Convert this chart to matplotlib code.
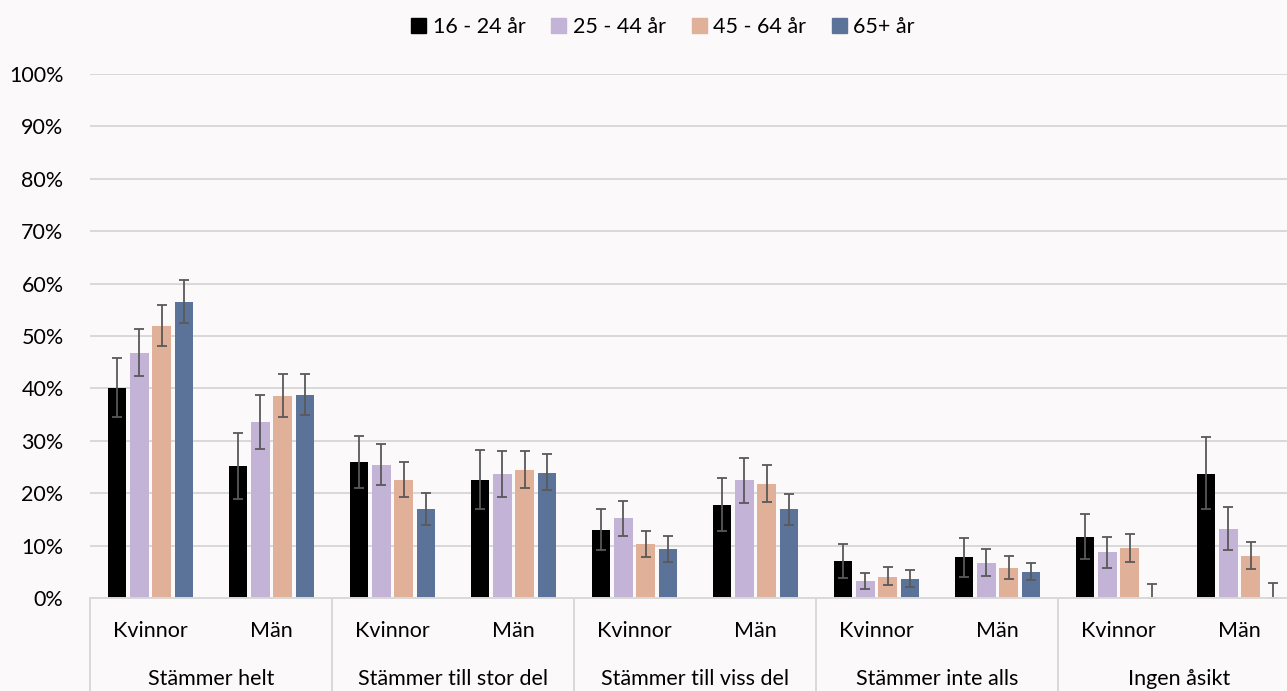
import matplotlib.pyplot as plt
import matplotlib.patches as mpatches
import matplotlib.transforms as mtransforms
import numpy as np

plt.rcParams['font.family'] = ['Lato', 'DejaVu Sans']

# Kategorier
grupper = ["Stämmer helt", "Stämmer till stor del", "Stämmer till viss del",
           "Stämmer inte alls", "Ingen åsikt"]
kon = ["Kvinnor", "Män"]
aldrar = ["16 - 24 år", "25 - 44 år", "45 - 64 år", "65+ år"]
farger = ["#000000", "#C3B3D6", "#E0B098", "#5B7399"]

# Andelar (%) per åldersgrupp, ordning: helt K, helt M, stor K, stor M, viss K, viss M, inte K, inte M, ingen K, ingen M
v_16_24 = [40.1, 25.1, 26.0, 22.6, 13.0, 17.7, 7.0, 7.8, 11.6, 23.7]
v_25_44 = [46.8, 33.5, 25.4, 23.7, 15.2, 22.5, 3.2, 6.7, 8.7, 13.2]
v_45_64 = [52.0, 38.6, 22.5, 24.5, 10.3, 21.8, 4.1, 5.8, 9.5, 8.1]
v_65 = [56.5, 38.8, 16.9, 23.9, 9.4, 16.9, 3.6, 5.0, 0.0, 0.0]

# Konfidensintervall, övre och undre gräns
hi_16_24 = [45.8, 31.4, 31.0, 28.3, 16.9, 22.9, 10.3, 11.5, 16.0, 30.7]
lo_16_24 = [34.5, 18.9, 21.0, 17.0, 9.1, 12.7, 3.9, 4.1, 7.4, 16.9]
hi_25_44 = [51.4, 38.7, 29.4, 28.1, 18.5, 26.7, 4.8, 9.4, 11.6, 17.3]
lo_25_44 = [42.4, 28.4, 21.6, 19.3, 11.9, 18.2, 1.8, 4.2, 5.8, 9.1]
hi_45_64 = [56.0, 42.7, 25.9, 28.1, 12.8, 25.3, 5.9, 8.0, 12.3, 10.6]
lo_45_64 = [48.0, 34.5, 19.2, 20.9, 7.9, 18.3, 2.5, 3.6, 6.9, 5.6]
hi_65 = [60.7, 42.7, 20.0, 27.4, 11.9, 19.8, 5.3, 6.7, 2.7, 2.9]
lo_65 = [52.5, 34.9, 13.9, 20.6, 6.9, 13.9, 2.1, 3.4, 0.0, 0.0]

varden = [v_16_24, v_25_44, v_45_64, v_65]
hoga = [hi_16_24, hi_25_44, hi_45_64, hi_65]
laga = [lo_16_24, lo_25_44, lo_45_64, lo_65]

bg = "#FCF9FA"
fs = 15.5
fig = plt.figure(figsize=(12.87, 6.91), dpi=100, facecolor=bg)
ax = fig.add_axes([90 / 1287, 93 / 691, 1197 / 1287, 524 / 691], facecolor=bg)

n = len(grupper) * len(kon)
x = np.arange(n) + 0.5
bredd = 0.149
steg = 0.182

for i, (v, h, l) in enumerate(zip(varden, hoga, laga)):
    v = np.array(v)
    h = np.array(h)
    l = np.array(l)
    pos = x + (i - 1.5) * steg
    ax.bar(pos, v, width=bredd, color=farger[i], label=aldrar[i], zorder=2)
    ax.errorbar(pos, v, yerr=[v - l, h - v], fmt='none', ecolor='#595959',
                elinewidth=1.3, capsize=3.8, capthick=1.3, zorder=3)

ax.set_ylim(0, 100)
ax.set_xlim(0, 1197 / 121)
ax.set_yticks(np.arange(0, 101, 10))
ax.set_yticklabels([f"{t}%" for t in range(0, 101, 10)], fontsize=fs)
ax.tick_params(axis='y', length=0, pad=19)
ax.set_xticks([])
ax.grid(axis='y', color='#D9D9D9', linewidth=1.4, zorder=0)
for s in ['top', 'right', 'left']:
    ax.spines[s].set_visible(False)
ax.spines['bottom'].set_color('#D9D9D9')
ax.spines['bottom'].set_linewidth(1.4)
ax.spines['bottom'].set_zorder(4)

# Tvånivå-etiketter under axeln
trans = mtransforms.blended_transform_factory(ax.transData, ax.transAxes)
for j in range(n):
    ax.text(x[j], -33 / 524, kon[j % 2], ha='center', va='center',
            fontsize=fs, transform=trans)
for g, namn in enumerate(grupper):
    ax.text(2 * g + 1, -81 / 524, namn, ha='center', va='center',
            fontsize=fs, transform=trans)
    ax.plot([2 * g, 2 * g], [0, -100 / 524], color='#D9D9D9', lw=1.4,
            transform=trans, clip_on=False)

handles = [mpatches.Patch(color=c, label=a) for c, a in zip(farger, aldrar)]
fig.legend(handles=handles, loc='center', bbox_to_anchor=(663 / 1287, 1 - 27 / 691),
           ncol=4, frameon=False, fontsize=fs, handlelength=0.7, handleheight=0.7,
           handletextpad=0.3, columnspacing=1.2)

fig.savefig("out.png", dpi=100, facecolor=bg)
